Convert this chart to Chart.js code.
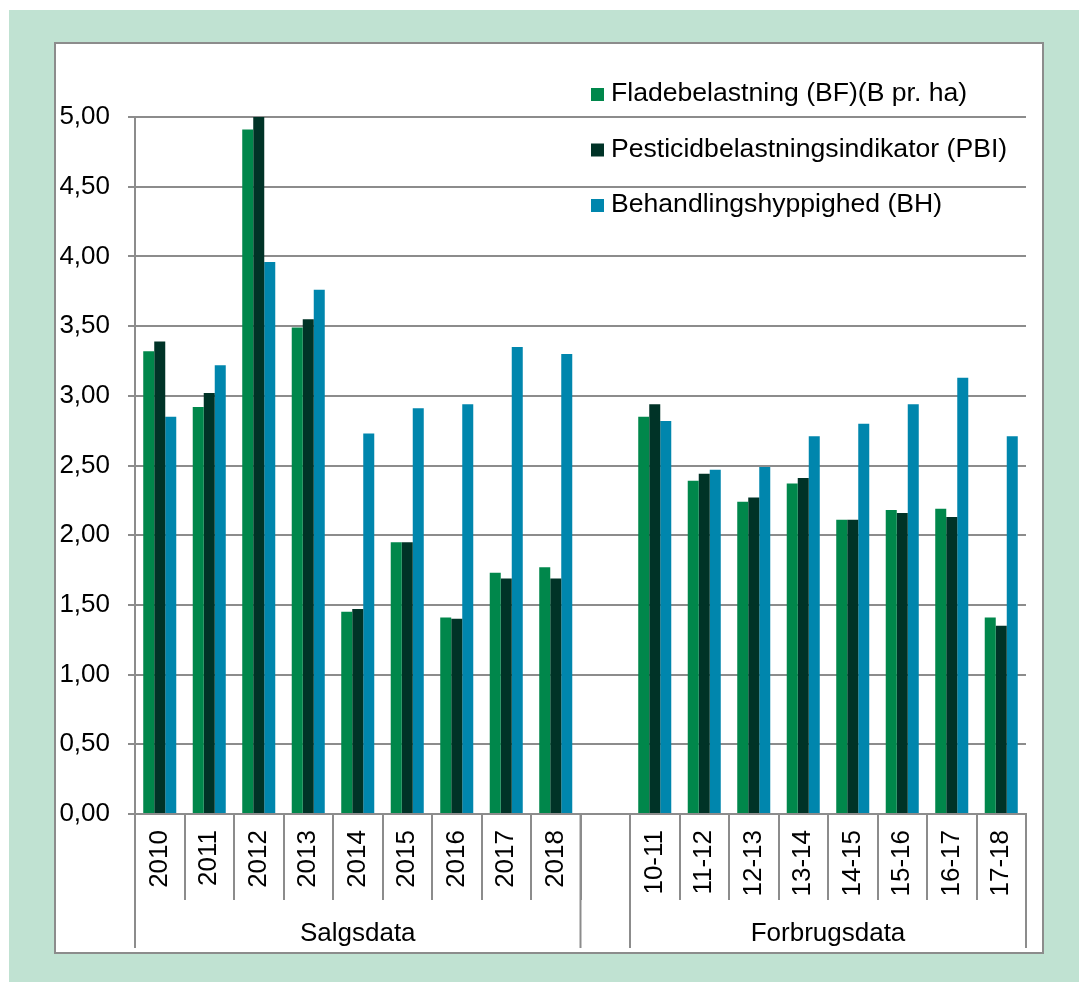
<!DOCTYPE html>
<html>
<head>
<meta charset="utf-8">
<script src="https://cdn.jsdelivr.net/npm/chart.js@4.4.1/dist/chart.umd.min.js"></script>
<style>
  html, body { margin: 0; padding: 0; background: #fff; }
  #wrap { position: absolute; left: 0; top: 0; width: 1079px; height: 982px; }
</style>
</head>
<body>
<div id="wrap"><canvas id="chart" width="1079" height="982"></canvas></div>
<script>
// categories: 9 years of sales data, one empty gap slot, 8 seasons of usage data
const categories = ['2010', '2011', '2012', '2013', '2014', '2015', '2016', '2017', '2018', '',
  '10-11', '11-12', '12-13', '13-14', '14-15', '15-16', '16-17', '17-18'];

const fladebelastning = [3.32, 2.92, 4.91, 3.49, 1.45, 1.95, 1.41, 1.73, 1.77, null,
  2.85, 2.39, 2.24, 2.37, 2.11, 2.18, 2.19, 1.41];
const pbi = [3.39, 3.02, 5.00, 3.55, 1.47, 1.95, 1.40, 1.69, 1.69, null,
  2.94, 2.44, 2.27, 2.41, 2.11, 2.16, 2.13, 1.35];
const behandling = [2.85, 3.22, 3.96, 3.76, 2.73, 2.91, 2.94, 3.35, 3.30, null,
  2.82, 2.47, 2.49, 2.71, 2.80, 2.94, 3.13, 2.71];

const seriesNames = ['Fladebelastning (BF)(B pr. ha)', 'Pesticidbelastningsindikator (PBI)', 'Behandlingshyppighed (BH)'];
const seriesColors = ['#00874b', '#003327', '#0086ad'];

// group labels under the category axis (first and last category index)
const groupLabels = ['Salgsdata', 'Forbrugsdata'];
const groupFirst = [0, 10];
const groupLast = [8, 17];

const FONT = '"Liberation Sans", Arial, sans-serif';
const GRID = '#8c8c8c';

const panelPlugin = {
  id: 'panel',
  beforeDraw(chart) {
    const ctx = chart.ctx;
    ctx.save();
    ctx.fillStyle = '#ffffff';
    ctx.fillRect(0, 0, chart.width, chart.height);
    ctx.fillStyle = '#c0e2d2';
    ctx.fillRect(9, 10, chart.width - 9, chart.height - 10);
    ctx.fillStyle = '#ffffff';
    ctx.fillRect(55, 43, 988, 910);
    ctx.strokeStyle = '#8c8c8c';
    ctx.lineWidth = 2;
    ctx.strokeRect(55, 43, 988, 910);
    ctx.restore();
  }
};

const groupPlugin = {
  id: 'groups',
  afterDraw(chart) {
    const ctx = chart.ctx;
    const x = chart.scales.x;
    const half = (x.getPixelForValue(1) - x.getPixelForValue(0)) / 2;
    const top = chart.chartArea.bottom;
    ctx.save();
    ctx.strokeStyle = GRID;
    ctx.lineWidth = 2;
    ctx.fillStyle = '#000';
    ctx.font = '26px ' + FONT;
    ctx.textAlign = 'center';
    ctx.textBaseline = 'middle';
    groupLabels.forEach((lab, i) => {
      const x0 = x.getPixelForValue(groupFirst[i]) - half;
      const x1 = x.getPixelForValue(groupLast[i]) + half;
      [x0, x1].forEach(px => {
        ctx.beginPath();
        ctx.moveTo(px, top);
        ctx.lineTo(px, top + 134);
        ctx.stroke();
      });
      ctx.fillText(lab, (x0 + x1) / 2, top + 120);
    });
    ctx.restore();
  }
};

const legendPlugin = {
  id: 'boxLegend',
  afterDraw(chart) {
    const ctx = chart.ctx;
    ctx.save();
    ctx.font = '26.6px ' + FONT;
    ctx.textBaseline = 'middle';
    ctx.textAlign = 'left';
    chart.data.datasets.forEach((ds, i) => {
      const y = 94 + i * 55.5;
      ctx.fillStyle = ds.backgroundColor;
      ctx.fillRect(591, y - 6, 13, 13);
      ctx.fillStyle = '#000';
      ctx.fillText(ds.label, 611, y);
    });
    ctx.restore();
  }
};

new Chart(document.getElementById('chart'), {
  type: 'bar',
  data: {
    labels: categories,
    datasets: [
      { label: seriesNames[0], data: fladebelastning, backgroundColor: seriesColors[0] },
      { label: seriesNames[1], data: pbi, backgroundColor: seriesColors[1] },
      { label: seriesNames[2], data: behandling, backgroundColor: seriesColors[2] }
    ]
  },
  options: {
    responsive: false,
    animation: false,
    devicePixelRatio: 1,
    categoryPercentage: 0.667,
    barPercentage: 1,
    layout: { padding: { left: 55, top: 117, right: 53, bottom: 29 } },
    plugins: {
      legend: { display: false },
      tooltip: { enabled: false }
    },
    scales: {
      x: {
        afterFit(scale) { scale.height = 139; },
        border: { display: true, color: GRID, width: 2 },
        grid: { display: true, drawOnChartArea: false, offset: true, tickLength: 86, color: GRID, lineWidth: 2 },
        ticks: {
          autoSkip: false,
          minRotation: 90,
          maxRotation: 90,
          padding: -70,
          color: '#000',
          font: { family: FONT, size: 26 }
        }
      },
      y: {
        min: 0,
        max: 5,
        afterFit(scale) { scale.width = 80; },
        border: { display: true, color: GRID, width: 2 },
        grid: { color: GRID, lineWidth: 2, tickLength: 7 },
        ticks: {
          stepSize: 0.5,
          padding: 18,
          color: '#000',
          font: { family: FONT, size: 26 },
          callback: v => v.toFixed(2).replace('.', ',')
        }
      }
    }
  },
  plugins: [panelPlugin, groupPlugin, legendPlugin]
});
</script>
</body>
</html>
